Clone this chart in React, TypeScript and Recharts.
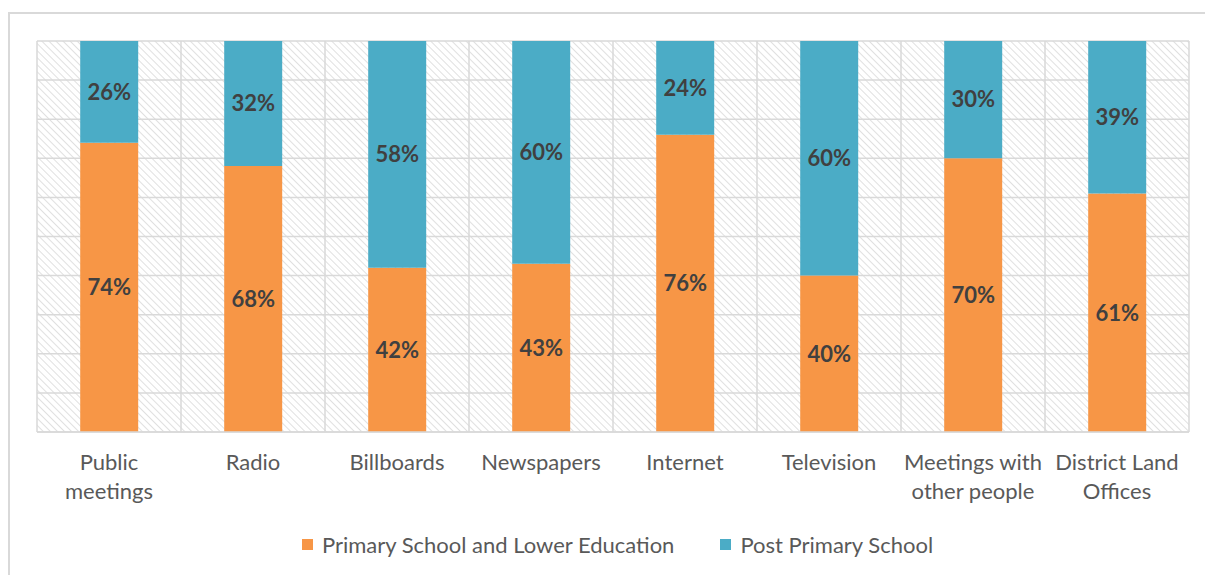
import React from 'react';
import { BarChart, Bar, XAxis, YAxis, CartesianGrid, Legend, LabelList } from 'recharts';

const categories = [
  'Public\nmeetings',
  'Radio',
  'Billboards',
  'Newspapers',
  'Internet',
  'Television',
  'Meetings with\nother people',
  'District Land\nOffices',
];
const primarySchool = [74, 68, 42, 43, 76, 40, 70, 61];
const postPrimary = [26, 32, 58, 60, 24, 60, 30, 39];
const yTicks = [0, 10, 20, 30, 40, 50, 60, 70, 80, 90, 100];

const seriesNames = ['Primary School and Lower Education', 'Post Primary School'];
const seriesColors = ['#F79646', '#4BACC6'];

const data = categories.map((name, i) => ({
  name,
  primary: primarySchool[i],
  post: postPrimary[i],
}));

const FONT = 'Lato, "Open Sans", sans-serif';
const GRID = '#d9d9d9';

const CategoryTick = (props: any) => {
  const { x, y, payload } = props;
  const lines = String(payload.value).split('\n');
  return (
    <g transform={`translate(${x},${y})`}>
      <text textAnchor="middle" fill="#595959" fontSize={22} fontFamily={FONT}>
        {lines.map((line, i) => (
          <tspan key={i} x={0} dy={i === 0 ? 38 : 29}>{line}</tspan>
        ))}
      </text>
    </g>
  );
};

// legend kept in series order (Recharts sorts its own payload by name)
const LegendContent = () => (
  <div style={{ display: 'flex', justifyContent: 'center', gap: 46, fontFamily: FONT, fontSize: 22, color: '#595959', paddingLeft: 9 }}>
    {seriesNames.map((name, i) => (
      <div key={name} style={{ display: 'flex', alignItems: 'center', gap: 9 }}>
        <span style={{ width: 11, height: 11, background: seriesColors[i], display: 'inline-block' }} />
        <span>{name}</span>
      </div>
    ))}
  </div>
);

const gridColumns = ({ offset }: any) =>
  categories.map((_, i) => offset.left + (i * offset.width) / categories.length)
    .concat(offset.left + offset.width);

export default function App() {
  return (
    <div style={{ position: 'relative', width: 1205, height: 575, overflow: 'hidden', background: '#fff' }}>
      <style>{'body{margin:0}'}</style>
      <div style={{ position: 'absolute', left: 8, top: 12, width: 1300, height: 700, border: `2px solid ${GRID}` }} />
      <div style={{ position: 'absolute', left: 0, top: 0 }}>
        <BarChart
          width={1205}
          height={575}
          data={data}
          barCategoryGap="30%"
          margin={{ top: 41, right: 16, bottom: 43, left: 37 }}
        >
          <defs>
            <pattern id="hatch" patternUnits="userSpaceOnUse" width="5" height="5" patternTransform="rotate(-45)">
              <line x1="0" y1="0" x2="0" y2="5" stroke="#d6d6d6" strokeWidth="1.5" />
            </pattern>
          </defs>
          <CartesianGrid
            stroke={GRID}
            strokeWidth={1.5}
            fill="url(#hatch)"
            fillOpacity={1}
            verticalCoordinatesGenerator={gridColumns}
          />
          <XAxis
            dataKey="name"
            height={100}
            tick={<CategoryTick />}
            tickLine={false}
            tickSize={0}
            tickMargin={0}
            axisLine={{ stroke: GRID, strokeWidth: 1.5 }}
            interval={0}
          />
          <YAxis hide domain={[0, 100]} ticks={yTicks} allowDataOverflow />
          <Legend
            layout="horizontal"
            verticalAlign="middle"
            align="center"
            wrapperStyle={{ top: 531, left: 37 }}
            content={<LegendContent />}
          />
          <Bar dataKey="primary" name={seriesNames[0]} stackId="a" fill={seriesColors[0]} isAnimationActive={false}>
            <LabelList
              dataKey="primary"
              position="center"
              formatter={(v: any) => `${v}%`}
              fill="#404040"
              fontSize={22}
              fontWeight="bold"
              fontFamily={FONT}
            />
          </Bar>
          <Bar dataKey="post" name={seriesNames[1]} stackId="a" fill={seriesColors[1]} isAnimationActive={false}>
            <LabelList
              dataKey="post"
              position="center"
              formatter={(v: any) => `${v}%`}
              fill="#404040"
              fontSize={22}
              fontWeight="bold"
              fontFamily={FONT}
            />
          </Bar>
        </BarChart>
      </div>
    </div>
  );
}
